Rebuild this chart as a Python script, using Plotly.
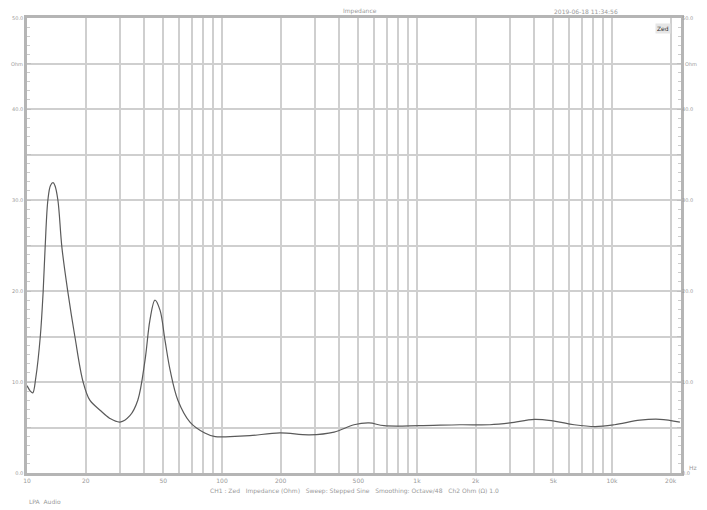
import plotly.graph_objects as go

# impedance curve (Hz, Ohm)
freq_hz = [10.0, 10.4, 10.7, 11.1, 11.7, 12.1, 12.4, 12.8, 13.2, 13.6, 13.9, 14.4,
           15.1, 16.2, 17.6, 19.4, 21.0, 23.7, 26.6, 30.0, 33.7, 37.0, 40.3, 42.7,
           45.3, 48.1, 51.0, 54.2, 59.4, 68.5, 81.6, 92.3, 110, 139, 198, 281, 376,
           475, 568, 678, 1030, 1660, 2360, 3000, 4010, 5060, 6400, 8200, 10300,
           13900, 17600, 22300]
impedance_ohm = [9.6, 9.0, 8.8, 10.5, 15.0, 19.9, 25.0, 30.0, 31.6, 31.9, 31.6, 30.0,
                 24.8, 19.9, 15.0, 10.0, 8.0, 6.9, 6.0, 5.6, 6.3, 8.0, 12.4, 16.8,
                 19.0, 17.9, 14.6, 11.3, 8.0, 5.6, 4.4, 4.0, 4.0, 4.1, 4.4, 4.2, 4.5,
                 5.3, 5.5, 5.2, 5.2, 5.3, 5.3, 5.5, 5.9, 5.7, 5.3, 5.1, 5.3,
                 5.8, 5.9, 5.6]

# axis ticks
x_grid = [m * 10 ** e for e in range(1, 5) for m in range(1, 10) if m * 10 ** e <= 20000]
x_labels = {10: "10", 20: "20", 50: "50", 100: "100", 200: "200", 500: "500",
            1000: "1k", 2000: "2k", 5000: "5k", 10000: "10k", 20000: "20k"}
y_grid = list(range(0, 55, 5))
y_labels = {0: "0.0", 10: "10.0", 20: "20.0", 30: "30.0", 40: "40.0", 50: "50.0"}

grid_col = "#cfcfcf"
txt_col = "#9a9a9a"

fig = go.Figure()
fig.add_trace(go.Scatter(x=freq_hz, y=impedance_ohm, mode="lines", line_shape="spline",
                         line=dict(color="#5a5a5a", width=1.2), showlegend=False))
# same data on the right-hand axis so it gets drawn
fig.add_trace(go.Scatter(x=freq_hz, y=impedance_ohm, mode="lines", yaxis="y2",
                         opacity=0, showlegend=False, hoverinfo="skip"))

# page body has an 8px margin, so the figure is a bit smaller than the window
fig.update_layout(
    width=699, height=502,
    margin=dict(l=19, r=26, t=10, b=37),
    paper_bgcolor="white", plot_bgcolor="white",
    font=dict(family="DejaVu Sans", size=6, color=txt_col),
    xaxis=dict(type="log", range=[1, 4.354], automargin=False,
               tickmode="array", tickvals=x_grid,
               ticktext=[x_labels.get(v, "") for v in x_grid],
               showgrid=True, gridcolor=grid_col, gridwidth=1.5,
               showline=True, linecolor="#b5b5b5", linewidth=2.5, mirror=True,
               ticks="", zeroline=False, tickfont=dict(size=6, color=txt_col)),
    yaxis=dict(range=[0, 50], automargin=False, tickmode="array", tickvals=y_grid,
               ticktext=[y_labels.get(v, "") for v in y_grid],
               showgrid=True, gridcolor=grid_col, gridwidth=1.5,
               showline=True, linecolor="#b5b5b5", linewidth=2.5, mirror=True,
               ticks="inside", ticklen=4, tickcolor="#c0c0c0",
               minor=dict(dtick=1, ticks="inside", ticklen=3, tickcolor="#cccccc"),
               zeroline=False, tickfont=dict(size=5, color=txt_col)),
    yaxis2=dict(range=[0, 50], automargin=False, overlaying="y", side="right",
                tickmode="array", tickvals=y_grid,
                ticktext=[y_labels.get(v, "") for v in y_grid],
                showgrid=False, ticks="inside", ticklen=4, tickcolor="#c0c0c0",
                minor=dict(dtick=1, ticks="inside", ticklen=3, tickcolor="#cccccc"),
                zeroline=False, tickfont=dict(size=5, color=txt_col)),
)

fig.add_annotation(text="Impedance", x=0.509, y=1, xref="paper", yref="paper",
                   yanchor="bottom", yshift=1, showarrow=False, font=dict(size=6, color=txt_col))
fig.add_annotation(text="2019-06-18 11:34:56", x=0.907, y=1, xref="paper", yref="paper",
                   yanchor="bottom", yshift=1, showarrow=False, font=dict(size=6, color=txt_col))
fig.add_annotation(text="Ohm", x=0, y=45, xref="paper", yref="y", xanchor="right", xshift=-2,
                   showarrow=False, font=dict(size=5, color=txt_col))
fig.add_annotation(text="Ohm", x=1, y=45, xref="paper", yref="y", xanchor="left", xshift=2,
                   showarrow=False, font=dict(size=5, color=txt_col))
fig.add_annotation(text="Zed", x=0.985, y=0.988, xref="paper", yref="paper",
                   xanchor="right", yanchor="top", showarrow=False, bgcolor="#e6e6e6",
                   font=dict(size=6, color="#333333"))
fig.add_annotation(text="Hz", x=1, y=0, xref="paper", yref="paper", xanchor="left",
                   xshift=6, showarrow=False, font=dict(size=6, color=txt_col))
fig.add_annotation(text="CH1 : Zed   Impedance (Ohm)   Sweep: Stepped Sine   Smoothing: Octave/48   Ch2 Ohm (Ω) 1.0",
                   x=0.5, y=0, xref="paper", yref="paper", yanchor="top", yshift=-12,
                   showarrow=False, font=dict(size=6, color=txt_col))
fig.add_annotation(text="LPA  Audio", x=0, y=0, xref="paper", yref="paper",
                   xanchor="left", yanchor="top", yshift=-23, showarrow=False,
                   font=dict(size=6, color=txt_col))

fig.write_html("out.html")
